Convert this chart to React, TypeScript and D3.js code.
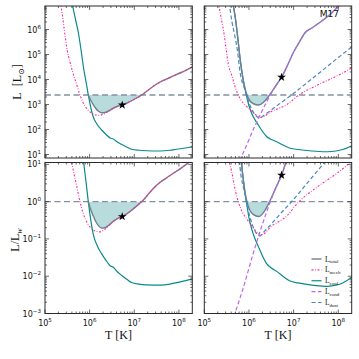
import React from "react";
import * as d3 from "d3";

// every point is [log10 T, log10 L/Lsun]
type Pt = [number, number];

const logLw = 3.38;
const starLeft: Pt = [6.73, 2.98];
const starRight: Pt = [6.73, 4.09];

const totalLeft: Pt[] = [
  [5.97, 3.38], [6.03, 3.15], [6.08, 3.0], [6.14, 2.84], [6.2, 2.73], [6.27, 2.67],
  [6.34, 2.68], [6.42, 2.74], [6.53, 2.85], [6.63, 2.93], [6.73, 2.98], [6.84, 3.06],
  [6.94, 3.15], [7.07, 3.28], [7.2, 3.42], [7.35, 3.63], [7.5, 3.82], [7.8, 4.08],
  [8.05, 4.28], [8.31, 4.51],
];
const mechLeft: Pt[] = [
  [5.3, 7.3], [5.37, 6.8], [5.45, 5.75], [5.5, 5.15], [5.56, 4.7], [5.62, 4.3],
  [5.7, 3.85], [5.78, 3.4], [5.86, 3.05], [5.95, 2.8], [6.05, 2.65], [6.15, 2.58],
  [6.23, 2.57], [6.32, 2.62], [6.42, 2.72], [6.53, 2.85], [6.63, 2.93], [6.73, 2.98],
  [6.84, 3.06], [6.94, 3.15], [7.07, 3.28], [7.2, 3.42], [7.35, 3.63], [7.5, 3.82],
  [7.8, 4.08], [8.05, 4.28], [8.31, 4.51],
];
const coolLeft: Pt[] = [
  [5.55, 7.6], [5.62, 6.94], [5.69, 6.35], [5.75, 5.85], [5.81, 5.15], [5.86, 4.51],
  [5.92, 3.9], [5.97, 3.38], [6.03, 2.85], [6.08, 2.51], [6.17, 2.2], [6.27, 1.98],
  [6.37, 1.8], [6.46, 1.66], [6.53, 1.62], [6.62, 1.5], [6.72, 1.4], [6.84, 1.29],
  [6.94, 1.21], [7.1, 1.17], [7.28, 1.15], [7.58, 1.14], [7.8, 1.17], [7.95, 1.21],
  [8.15, 1.26], [8.31, 1.31],
];

const totalRight: Pt[] = [
  [5.63, 7.15], [5.7, 6.4], [5.76, 5.5], [5.8, 4.85], [5.87, 4.0], [5.95, 3.4],
  [6.02, 3.15], [6.1, 3.03], [6.22, 2.98], [6.32, 3.08], [6.42, 3.28], [6.5, 3.48],
  [6.6, 3.75], [6.73, 4.09], [6.87, 4.6], [7.0, 5.1], [7.13, 5.5], [7.26, 5.88],
  [7.4, 6.05], [7.6, 6.3], [7.8, 6.58], [7.98, 6.88], [8.05, 7.0],
];
const mechRight: Pt[] = [
  [5.3, 7.3], [5.33, 6.95], [5.44, 5.85], [5.55, 4.51], [5.61, 4.2], [5.7, 3.65],
  [5.82, 3.18], [5.96, 2.9], [6.11, 2.65], [6.22, 2.52], [6.28, 2.49], [6.5, 2.72],
  [6.85, 3.0], [7.12, 3.38], [7.5, 3.75], [7.98, 4.15], [8.31, 4.47],
];
const coolRight: Pt[] = [
  [5.58, 7.6], [5.63, 7.15], [5.7, 6.4], [5.76, 5.5], [5.8, 4.85], [5.87, 4.0],
  [5.95, 3.31], [6.0, 2.95], [6.06, 2.65], [6.13, 2.4], [6.21, 2.18], [6.3, 1.93],
  [6.4, 1.71], [6.5, 1.6], [6.62, 1.51], [6.76, 1.38], [6.92, 1.25], [7.1, 1.2],
  [7.3, 1.16], [7.5, 1.13], [7.76, 1.11], [7.95, 1.14], [8.1, 1.2], [8.31, 1.36],
];
const condRight: Pt[] = [
  [5.66, 0.3], [5.85, 0.98], [6.11, 2.05], [6.38, 3.05], [6.6, 3.75], [6.73, 4.09],
  [6.87, 4.6], [7.0, 5.1], [7.13, 5.5], [7.26, 5.88], [7.4, 6.05], [7.6, 6.3],
  [7.8, 6.58], [7.98, 6.88], [8.05, 7.0],
];
const dustRight: Pt[] = [
  [5.52, 7.6], [5.55, 7.18], [5.62, 6.3], [5.67, 5.86], [5.74, 5.18], [5.8, 4.3],
  [5.91, 3.58], [6.02, 2.98], [6.14, 2.58], [6.25, 2.46], [6.32, 2.55], [6.5, 2.78],
  [6.7, 3.05], [6.97, 3.4], [7.25, 3.8], [7.6, 4.3], [8.0, 4.88], [8.31, 5.31],
];

const legendNames = ["total", "mech", "cool", "cond", "dust"];

const C = {
  total: "#6f7f8f",
  mech: "#ff2b9a",
  cool: "#0a8a8a",
  cond: "#bb66ee",
  dust: "#4a86c0",
  lw: "#8491a3",
  axis: "#2a2a2a",
};
const styles: Record<string, { color: string; dash?: string; width: number }> = {
  total: { color: C.total, width: 1.4 },
  mech: { color: C.mech, dash: "2,1.6,0.8,1.6", width: 1.1 },
  cool: { color: C.cool, width: 1.2 },
  cond: { color: C.cond, dash: "4,2.5", width: 1.2 },
  dust: { color: C.dust, dash: "4,2.5", width: 1.2 },
};

const cols = [[45, 192.3], [204.3, 351.7]];
const rows = [[6, 158], [162.5, 313.5]];
const xDomain = [1e5, 10 ** 8.3];
const yDomains = [[10 ** 0.86, 10 ** 6.94], [1e-3, 10 ** 1.05]];
const tickFont = "DejaVu Sans, sans-serif";
const serif = "Liberation Serif, DejaVu Serif, serif";

function Pow({ e, x, y, anchor }: { e: number; x: number; y: number; anchor: string }) {
  return (
    <text x={x} y={y} textAnchor={anchor} fontFamily={tickFont} fontSize={8} fill="#111">
      10<tspan dy={-3.8} fontSize={5.6}>{e < 0 ? "\u2212" + -e : e}</tspan>
    </text>
  );
}

function Panel({ id, col, row, curves, total, star, showX, showY }: any) {
  const [xa, xb] = cols[col];
  const [ya, yb] = rows[row];
  const shift = row === 0 ? 0 : logLw;
  const xs = d3.scaleLog().domain(xDomain).range([xa, xb]);
  const ys = d3.scaleLog().domain(yDomains[row]).range([yb, ya]);
  const px = (d: Pt) => xs(10 ** d[0]);
  const py = (d: Pt) => ys(10 ** (d[1] - shift));
  const line = d3.line<Pt>().x(px).y(py).curve(d3.curveMonotoneX);
  const area = d3
    .area<Pt>()
    .x(px)
    .y0(ys(10 ** (logLw - shift)))
    .y1((d) => ys(10 ** (Math.min(d[1], logLw) - shift)))
    .curve(d3.curveMonotoneX);
  const isMajor = (v: number) => Math.abs(Math.log10(v) - Math.round(Math.log10(v))) < 1e-6;
  const xt = xs.ticks();
  const yt = ys.ticks();
  const star5 = d3.symbol(d3.symbolStar, 24)();
  const lwY = ys(10 ** (logLw - shift));
  return (
    <g>
      <defs>
        <clipPath id={id}>
          <rect x={xa} y={ya} width={xb - xa} height={yb - ya} />
        </clipPath>
      </defs>
      <g clipPath={`url(#${id})`}>
        <path d={area(total) || ""} fill="#008080" fillOpacity={0.28} />
        <line x1={xa} x2={xb} y1={lwY} y2={lwY} stroke={C.lw} strokeWidth={1.3} strokeDasharray="6,3.5" />
        {curves.map((c: any, i: number) => {
          const s = styles[c.kind];
          return (
            <path key={i} d={line(c.data) || ""} fill="none" stroke={s.color}
              strokeWidth={s.width} strokeDasharray={s.dash} />
          );
        })}
        <path d={star5 || ""} transform={`translate(${px(star)},${py(star)})`} fill="#000" />
      </g>
      {xt.map((v, i) => {
        const x = xs(v);
        const l = isMajor(v) ? 4 : 2;
        return (
          <g key={"x" + i} stroke={C.axis} strokeWidth={0.7}>
            <line x1={x} x2={x} y1={yb} y2={yb - l} />
            <line x1={x} x2={x} y1={ya} y2={ya + l} />
          </g>
        );
      })}
      {yt.map((v, i) => {
        const y = ys(v);
        const l = isMajor(v) ? 4 : 2;
        return (
          <g key={"y" + i} stroke={C.axis} strokeWidth={0.7}>
            <line x1={xa} x2={xa + l} y1={y} y2={y} />
            <line x1={xb} x2={xb - l} y1={y} y2={y} />
          </g>
        );
      })}
      <rect x={xa} y={ya} width={xb - xa} height={yb - ya} fill="none" stroke={C.axis} strokeWidth={1} />
      {showX &&
        xt.filter(isMajor).map((v, i) => (
          <Pow key={"xl" + i} e={Math.round(Math.log10(v))} x={xs(v)} y={yb + 12} anchor="middle" />
        ))}
      {showY &&
        yt.filter(isMajor).map((v, i) => (
          <Pow key={"yl" + i} e={Math.round(Math.log10(v))} x={xa - 4} y={ys(v) + 3} anchor="end" />
        ))}
    </g>
  );
}

function Legend() {
  const y = d3.scaleLinear().domain([0, 4]).range([259, 302.5]);
  return (
    <g>
      {legendNames.map((n, i) => {
        const s = styles[n];
        return (
          <g key={n}>
            <line x1={311.5} x2={321.5} y1={y(i)} y2={y(i)} stroke={s.color}
              strokeWidth={s.width} strokeDasharray={s.dash} />
            <text x={325} y={y(i) + 2.5} fontFamily={serif} fontSize={7.5} fill="#111">
              L<tspan dy={1.8} fontSize={5}>{n}</tspan>
            </text>
          </g>
        );
      })}
    </g>
  );
}

export default function App() {
  const left = [
    { kind: "cool", data: coolLeft },
    { kind: "total", data: totalLeft },
    { kind: "mech", data: mechLeft },
  ];
  const right = [
    { kind: "cool", data: coolRight },
    { kind: "total", data: totalRight },
    { kind: "dust", data: dustRight },
    { kind: "mech", data: mechRight },
    { kind: "cond", data: condRight },
  ];
  return (
    <svg width={359} height={359} style={{ position: "absolute", left: 0, top: 0, background: "#fff" }}>
      <Panel id="tl" col={0} row={0} curves={left} total={totalLeft} star={starLeft} showY />
      <Panel id="tr" col={1} row={0} curves={right} total={totalRight} star={starRight} />
      <Panel id="bl" col={0} row={1} curves={left} total={totalLeft} star={starLeft} showY showX />
      <Panel id="br" col={1} row={1} curves={right} total={totalRight} star={starRight} showX />
      <text x={339} y={17} textAnchor="end" fontFamily={tickFont} fontSize={9} fill="#111">M17</text>
      <Legend />
      <text transform="translate(21,82) rotate(-90)" textAnchor="middle" fontFamily={serif} fontSize={12} fill="#111">
        L{"\u2002"}[L<tspan dy={2.5} fontSize={8}>{"\u2299"}</tspan><tspan dy={-2.5}>]</tspan>
      </text>
      <text transform="translate(19,240) rotate(-90)" textAnchor="middle" fontFamily={serif} fontSize={12} fill="#111">
        L/L<tspan dy={2.5} fontSize={8} fontStyle="italic">w</tspan>
      </text>
      <text x={118.5} y={339} textAnchor="middle" fontFamily={serif} fontSize={12} fill="#111">T [K]</text>
      <text x={278} y={339} textAnchor="middle" fontFamily={serif} fontSize={12} fill="#111">T [K]</text>
    </svg>
  );
}
